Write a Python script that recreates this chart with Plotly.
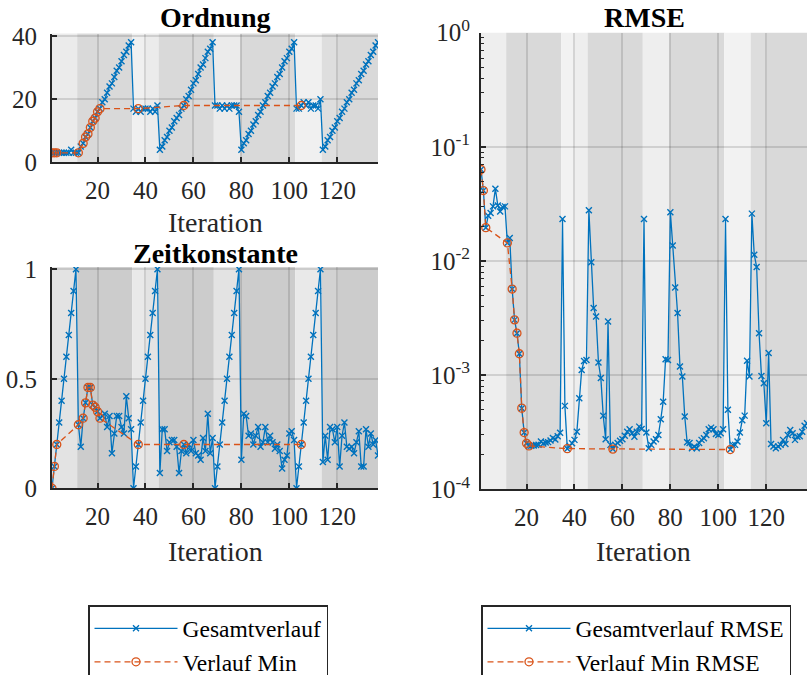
import plotly.graph_objects as go

W, H = 807, 675

iterations = list(range(1, 138))

ordnung = [
    3, 3, 3, 3, 3, 3, 3, 3, 4, 3, 3,
    3, 5, 6, 8, 9, 11, 13, 14, 16, 17,
    19, 20, 22, 24, 25, 27, 29, 30, 32, 34, 35, 37, 38,
    17, 16, 17, 16, 17, 17, 17, 16, 17, 16, 18,
    4, 5, 7, 8, 10, 11, 13, 14, 15, 17, 18,
    20, 21, 23, 25, 26, 28, 30, 31, 33, 35, 36, 38,
    18, 18, 17, 18, 17, 18, 17, 18, 18, 18, 16,
    4, 6, 7, 9, 10, 12, 13, 15, 16, 18, 19, 21, 22, 24, 25, 27, 28, 30, 32, 33, 35, 36, 38,
    17, 17, 18, 19, 18, 19, 17, 18, 18, 17, 20,
    4, 5, 7, 8, 10, 11, 13, 14, 16, 17, 19, 20, 22, 23, 25, 26, 28, 29, 31, 32, 34, 35, 37, 38,
]

zeitkonstante = [
    0, 0.1, 0.2, 0.3, 0.4, 0.5, 0.6, 0.7, 0.8, 0.9, 1.0,
    0.29, 0.19, 0.32, 0.39, 0.46, 0.46, 0.38, 0.37, 0.35, 0.32,
    0.33, 0.34, 0.28, 0.33, 0.16, 0.25, 0.33, 0.33, 0.28, 0.25, 0.42, 0.32, 0.27,
    0, 0.1, 0.2, 0.3, 0.4, 0.5, 0.6, 0.7, 0.8, 0.9, 1.0,
    0.07, 0.27, 0.27, 0.17, 0.21, 0.22, 0.22, 0.19, 0.07, 0.17, 0.2,
    0.16, 0.2, 0.17, 0.22, 0.16, 0.15, 0.13, 0.23, 0.17, 0.34, 0.16, 0.23,
    0, 0.1, 0.2, 0.3, 0.4, 0.5, 0.6, 0.7, 0.8, 0.9, 1.0,
    0.13, 0.34, 0.33, 0.24, 0.25, 0.2, 0.24, 0.28, 0.19, 0.21,
    0.28, 0.21, 0.24, 0.21, 0.18, 0.2, 0.17, 0.09, 0.13, 0.15,
    0.25, 0.26, 0.22,
    0, 0.1, 0.2, 0.3, 0.4, 0.5, 0.6, 0.7, 0.8, 0.9, 1.0,
    0.12, 0.24, 0.13, 0.28, 0.27, 0.21, 0.28, 0.1, 0.24, 0.3,
    0.19, 0.18, 0.19, 0.16, 0.21, 0.26, 0.1, 0.1, 0.27, 0.19,
    0.25, 0.2, 0.22, 0.15,
]

rmse = [
    0.0633, 0.0414, 0.0196, 0.0249, 0.0263, 0.0301, 0.0430, 0.0307, 0.0272, 0.0298, 0.0301,
    0.0144, 0.0159, 0.00568, 0.00305, 0.00233, 0.00154, 0.000514, 0.000314, 0.000253, 0.000240,
    0.000241, 0.000242, 0.000244, 0.000246, 0.000262, 0.000252, 0.000257, 0.000259, 0.000267,
    0.000281, 0.000273, 0.000292, 0.000313,
    0.0233, 0.000538, 0.000227, 0.000240, 0.000253, 0.000271, 0.00032, 0.000628, 0.00111, 0.00133, 0.00136,
    0.0278, 0.00973, 0.00387, 0.00327, 0.00129, 0.000942, 0.00044, 0.000275, 0.00295, 0.000245, 0.000225,
    0.000245, 0.000254, 0.000266, 0.000275, 0.000294, 0.00032, 0.000336, 0.00031, 0.000289, 0.00032,
    0.000354, 0.000338,
    0.0233, 0.000314, 0.000229, 0.000245, 0.000262, 0.000275, 0.000299, 0.000411, 0.000586, 0.00138, 0.00136,
    0.0267, 0.0137, 0.00586, 0.0035, 0.00119, 0.000973, 0.000434, 0.000258, 0.000254, 0.000229,
    0.000237, 0.000229, 0.000254, 0.000271, 0.00028, 0.000299, 0.000336, 0.000347, 0.000336, 0.000305,
    0.000299, 0.00031, 0.000336,
    0.0233, 0.000497, 0.000223, 0.000245, 0.000245, 0.000262, 0.000314, 0.000403, 0.000442, 0.00134, 0.000973,
    0.026, 0.01135, 0.00885, 0.00233, 0.000985, 0.000851, 0.000379, 0.00156, 0.000249, 0.000237,
    0.000229, 0.000237, 0.000245, 0.000271, 0.000249, 0.000299, 0.00033, 0.00031, 0.000271, 0.000289,
    0.000292, 0.00032, 0.00036, 0.000379,
]

# iterations at which a new minimum RMSE was reached
min_iterations = [1, 2, 3, 12, 14, 15, 16, 17, 18, 19, 20, 21, 37, 56, 105]

x_tick_values = [20, 40, 60, 80, 100, 120]

# background phase bands: (start, end, shade key)
band_edges = [1, 11.5, 34.5, 40, 45.5, 68.5, 79.5, 102.5, 113.5, 120, 137]
band_kinds = ["L", "D", "L1", "L", "D", "L", "D", "L1", "D1", "D"]

BLUE = "#0072BD"
ORANGE = "#D95319"
AX = "#262626"
FONT = "Liberation Serif"

ordnung_min = [ordnung[i - 1] for i in min_iterations]
zeit_min = [zeitkonstante[i - 1] for i in min_iterations]
rmse_min = [rmse[i - 1] for i in min_iterations]


def px_x(p):
    return p / W


def px_y(p):
    return 1 - p / H


fig = go.Figure()


def add_pair(xa, ya, yv, ymin, names, legend, show):
    fig.add_trace(go.Scatter(
        x=iterations, y=yv, xaxis=xa, yaxis=ya, mode="lines+markers",
        line=dict(color=BLUE, width=1.3),
        marker=dict(symbol="x-thin-open", size=6, color=BLUE, line=dict(width=1.4, color=BLUE)),
        name=names[0], legend=legend, showlegend=show))
    fig.add_trace(go.Scatter(
        x=min_iterations, y=ymin, xaxis=xa, yaxis=ya, mode="lines+markers",
        line=dict(color=ORANGE, width=1.3, dash="6px,4px"),
        marker=dict(symbol="circle-open", size=8, color=ORANGE, line=dict(width=1.3, color=ORANGE)),
        name=names[1], legend=legend, showlegend=show))


add_pair("x", "y", ordnung, ordnung_min, ["Gesamtverlauf", "Verlauf Min"], "legend", True)
add_pair("x2", "y2", zeitkonstante, zeit_min, ["Gesamtverlauf", "Verlauf Min"], "legend", False)
add_pair("x3", "y3", rmse, rmse_min, ["Gesamtverlauf RMSE", "Verlauf Min RMSE"], "legend2", True)

panel_colors = {
    "": {"L": "#ebebeb", "D": "#d9d9d9", "L1": "#f0f0f0", "D1": "#dedede"},
    "2": {"L": "#e3e3e3", "D": "#cccccc", "L1": "#e9e9e9", "D1": "#d2d2d2"},
    "3": {"L": "#eeeeee", "D": "#d9d9d9", "L1": "#f2f2f2", "D1": "#dddddd"},
}
for suffix, cols in panel_colors.items():
    for i, kind in enumerate(band_kinds):
        fig.add_shape(type="rect", xref="x" + suffix, yref="y" + suffix + " domain",
                      x0=band_edges[i], x1=band_edges[i + 1], y0=0, y1=1,
                      fillcolor=cols[kind], line_width=0, layer="below")

xcommon = dict(range=[1, 137], tickmode="array", tickvals=x_tick_values,
               ticks="inside", ticklen=5, tickwidth=1.5, tickcolor=AX,
               showline=True, linecolor=AX, linewidth=2,
               showgrid=True, gridcolor="rgba(38,38,38,0.15)", gridwidth=1.5,
               zeroline=False, ticklabelstandoff=5,
               tickfont=dict(family=FONT, size=25, color=AX))
ycommon = dict(ticks="inside", ticklen=5, tickwidth=1.5, tickcolor=AX,
               showline=True, linecolor=AX, linewidth=2,
               showgrid=True, gridcolor="rgba(38,38,38,0.15)", gridwidth=1.5,
               zeroline=False, ticklabelstandoff=8,
               tickfont=dict(family=FONT, size=25, color=AX))

left_dom = [px_x(52), px_x(378)]
right_dom = [px_x(481), 1.0]

minor_vals = [m * 10 ** e for e in range(-4, 0) for m in range(2, 10)]

legend_common = dict(xanchor="left", yanchor="top", bgcolor="white", bordercolor=AX,
                     borderwidth=1.5, itemwidth=83, tracegroupgap=0,
                     font=dict(family=FONT, size=23.5, color="black"))

fig.update_layout(
    width=W, height=H,
    margin=dict(l=0, r=0, t=0, b=0, autoexpand=False),
    paper_bgcolor="white", plot_bgcolor="white",
    xaxis=dict(xcommon, domain=left_dom, anchor="y"),
    yaxis=dict(ycommon, domain=[px_y(162.3), px_y(33.5)], anchor="x", range=[0, 40.8],
               tickmode="array", tickvals=[0, 20, 40]),
    xaxis2=dict(xcommon, domain=left_dom, anchor="y2"),
    yaxis2=dict(ycommon, domain=[px_y(488.3), px_y(267)], anchor="x2", range=[0, 1.01],
                tickmode="array", tickvals=[0, 0.5, 1], ticktext=["0", "0.5", "1"]),
    xaxis3=dict(xcommon, domain=right_dom, anchor="y3"),
    yaxis3=dict(ycommon, domain=[px_y(489.3), px_y(32.7)], anchor="x3", type="log",
                range=[-4, 0], tickmode="array",
                tickvals=[1e-4, 1e-3, 1e-2, 1e-1, 1],
                ticktext=["10<sup>-4</sup>", "10<sup>-3</sup>", "10<sup>-2</sup>",
                          "10<sup>-1</sup>", "10<sup>0</sup>"],
                ticklabelstandoff=4,
                minor=dict(ticks="inside", ticklen=3, tickwidth=1, tickcolor=AX,
                           tickmode="array", tickvals=minor_vals, showgrid=False)),
    legend=dict(legend_common, x=px_x(88), y=px_y(605)),
    legend2=dict(legend_common, x=px_x(481), y=px_y(605)),
    showlegend=True,
)

titles = [("<b>Ordnung</b>", 215, 18), ("<b>Zeitkonstante</b>", 215, 253), ("<b>RMSE</b>", 644, 18)]
for text, cx, cy in titles:
    fig.add_annotation(text=text, x=px_x(cx), y=px_y(cy), xref="paper", yref="paper",
                       xanchor="center", yanchor="middle", showarrow=False,
                       font=dict(family=FONT, size=28, color="black"))

labels = [(215, 222), (215, 551), (643, 551)]
for cx, cy in labels:
    fig.add_annotation(text="Iteration", x=px_x(cx), y=px_y(cy), xref="paper", yref="paper",
                       xanchor="center", yanchor="middle", showarrow=False,
                       font=dict(family=FONT, size=28, color=AX))

fig.write_html("out.html")
